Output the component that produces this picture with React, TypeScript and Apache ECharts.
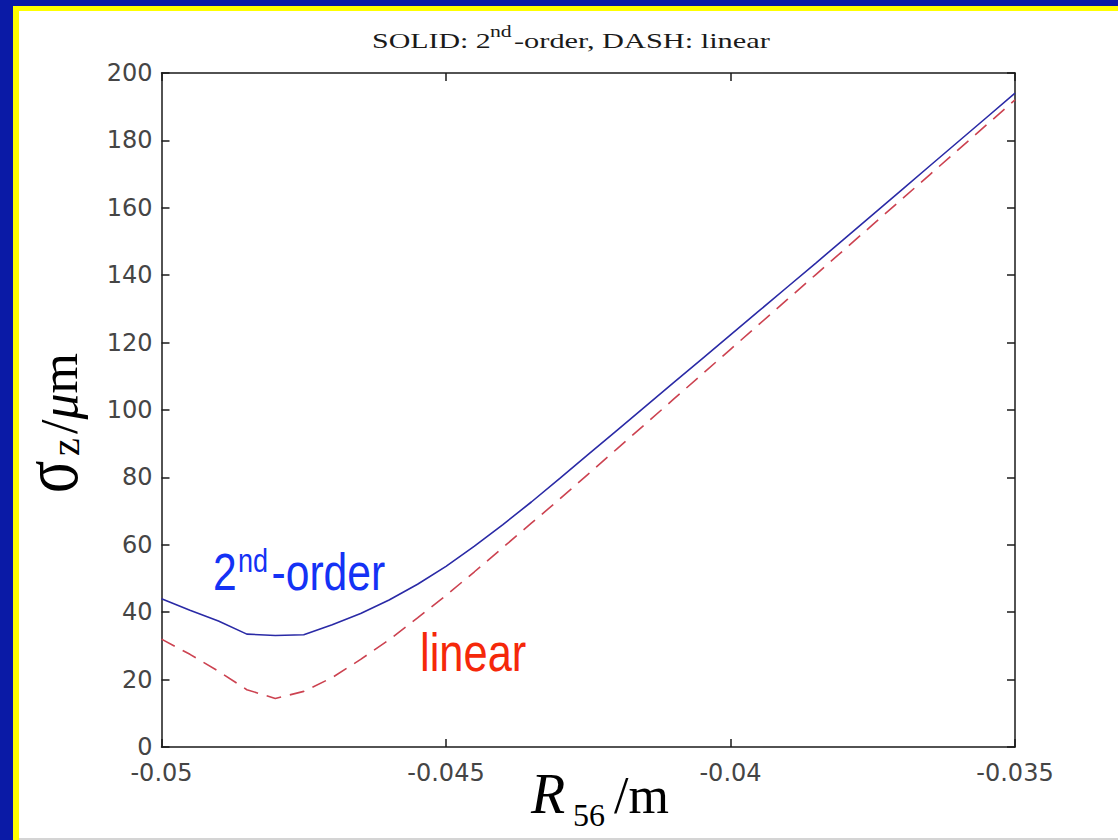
import React, { useEffect, useRef } from "react";
import * as echarts from "echarts";

// R56 sample positions (m)
const r56 = [
  -0.05, -0.0495, -0.049, -0.0485, -0.048, -0.0475, -0.047, -0.0465, -0.046, -0.0455,
  -0.045, -0.0445, -0.044, -0.0435, -0.043, -0.0425, -0.042, -0.0415, -0.041, -0.0405,
  -0.04, -0.0395, -0.039, -0.0385, -0.038, -0.0375, -0.037, -0.0365, -0.036, -0.0355,
  -0.035,
];

// sigma_z (um), 2nd-order (solid)
const secondOrder = [
  44, 40.6, 37.4, 33.5, 33.1, 33.3, 36.3, 39.6, 43.6, 48.3,
  53.6, 59.6, 66.0, 72.7, 79.7, 86.8, 93.9, 101, 108.1, 115.2,
  122.3, 129.4, 136.5, 143.6, 150.8, 158, 165.2, 172.4, 179.6, 186.8,
  194,
];

// sigma_z (um), linear (dashed)
const linearOrder = [
  32, 27.5, 22.5, 17, 14.4, 16.5, 20.6, 26.0, 31.8, 38.3,
  45, 52, 59.2, 66.4, 73.6, 81, 88.4, 95.8, 103.2, 110.6,
  118, 125.4, 132.8, 140.2, 147.6, 155, 162.4, 169.8, 177.2, 184.6,
  192,
];

const xMin = -0.05;
const xMax = -0.035;
const xStep = 0.005;
const yMin = 0;
const yMax = 200;
const yStep = 20;

const titleParts = ["SOLID: 2", "nd", "-order, DASH: linear"];
const xNameParts = ["R", "56", "/m"];
const yNameParts = ["σ", "z"];
const annotSecond = ["2", "nd", "-order"];
const annotLinear = "linear";

export default function App() {
  const ref = useRef<HTMLDivElement>(null);

  useEffect(() => {
    if (!ref.current) return;
    const chart = echarts.init(ref.current, undefined, { renderer: "svg" });

    const axisLineStyle = { color: "#1a1a1a", width: 1.5 };
    const tickLabel = {
      fontFamily: "DejaVu Sans",
      fontSize: 24,
      color: "#454545",
      lineHeight: 20,
    };

    const serif = '"Liberation Serif", "Times New Roman", serif';
    const sans = '"Liberation Sans", Arial, sans-serif';

    chart.setOption({
      animation: false,
      backgroundColor: "#ffffff",
      grid: { left: 161.5, right: 103, top: 73, bottom: 93, containLabel: false },
      xAxis: [
        {
          type: "value",
          position: "bottom",
          min: xMin,
          max: xMax,
          interval: xStep,
          axisLine: { show: true, onZero: false, lineStyle: axisLineStyle },
          axisTick: { show: true, inside: true, length: 8, lineStyle: axisLineStyle },
          axisLabel: {
            ...tickLabel,
            margin: 16,
            showMinLabel: true,
            showMaxLabel: true,
            formatter: (v: number) => String(Number(v.toFixed(4))),
          },
          splitLine: { show: false },
        },
        {
          type: "value",
          position: "top",
          min: xMin,
          max: xMax,
          interval: xStep,
          axisLine: { show: true, onZero: false, lineStyle: axisLineStyle },
          axisTick: { show: true, inside: true, length: 8, lineStyle: axisLineStyle },
          axisLabel: { show: false },
          splitLine: { show: false },
        },
      ],
      yAxis: [
        {
          type: "value",
          position: "left",
          min: yMin,
          max: yMax,
          interval: yStep,
          axisLine: { show: true, onZero: false, lineStyle: axisLineStyle },
          axisTick: { show: true, inside: true, length: 8, lineStyle: axisLineStyle },
          axisLabel: { ...tickLabel, margin: 9, showMinLabel: true, showMaxLabel: true },
          splitLine: { show: false },
        },
        {
          type: "value",
          position: "right",
          min: yMin,
          max: yMax,
          interval: yStep,
          axisLine: { show: true, onZero: false, lineStyle: axisLineStyle },
          axisTick: { show: true, inside: true, length: 8, lineStyle: axisLineStyle },
          axisLabel: { show: false },
          splitLine: { show: false },
        },
      ],
      series: [
        {
          name: "2nd-order",
          type: "line",
          xAxisIndex: 0,
          yAxisIndex: 0,
          data: r56.map((r, i) => [r, secondOrder[i]]),
          showSymbol: false,
          smooth: false,
          lineStyle: { color: "#2a2aa6", width: 1.6 },
        },
        {
          name: "linear",
          type: "line",
          xAxisIndex: 0,
          yAxisIndex: 0,
          data: r56.map((r, i) => [r, linearOrder[i]]),
          showSymbol: false,
          smooth: false,
          lineStyle: { color: "#cc4250", width: 1.6, type: [15, 9] },
        },
      ],
      graphic: [
        // frame: blue band + yellow border
        { type: "rect", shape: { x: 0, y: 0, width: 1118, height: 6 }, style: { fill: "#0a1aa6" } },
        { type: "rect", shape: { x: 0, y: 0, width: 13, height: 840 }, style: { fill: "#0a1aa6" } },
        { type: "rect", shape: { x: 13, y: 6, width: 1105, height: 5 }, style: { fill: "#ffff00" } },
        { type: "rect", shape: { x: 13, y: 6, width: 6, height: 834 }, style: { fill: "#ffff00" } },
        { type: "rect", shape: { x: 19, y: 838, width: 1099, height: 2 }, style: { fill: "#d4d4d4" } },
        // title
        {
          type: "text", x: 372, y: 40.6, scaleX: 1.36,
          style: { text: titleParts[0], font: `22px ${serif}`, fill: "#1a1a1a", verticalAlign: "middle" },
        },
        {
          type: "text", x: 490, y: 32, scaleX: 1.36,
          style: { text: titleParts[1], font: `16px ${serif}`, fill: "#1a1a1a", verticalAlign: "middle" },
        },
        {
          type: "text", x: 514, y: 40.6, scaleX: 1.38,
          style: { text: titleParts[2], font: `22px ${serif}`, fill: "#1a1a1a", verticalAlign: "middle" },
        },
        // x axis name
        {
          type: "text", x: 531, y: 794,
          style: { text: xNameParts[0], font: `italic 56px ${serif}`, fill: "#000", verticalAlign: "middle" },
        },
        {
          type: "text", x: 573, y: 815,
          style: { text: xNameParts[1], font: `32px ${serif}`, fill: "#000", verticalAlign: "middle" },
        },
        {
          type: "text", x: 614, y: 795.5,
          style: { text: xNameParts[2], font: `52px ${serif}`, fill: "#000", verticalAlign: "middle" },
        },
        // y axis name (rotated)
        {
          type: "text", x: 49, y: 493, rotation: Math.PI / 2, scaleY: 1.35,
          style: { text: yNameParts[0], font: `60px ${serif}`, fill: "#000", verticalAlign: "middle" },
        },
        {
          type: "text", x: 65, y: 456, rotation: Math.PI / 2,
          style: { text: yNameParts[1], font: `40px ${serif}`, fill: "#000", verticalAlign: "middle" },
        },
        {
          type: "text", x: 59.5, y: 434, rotation: Math.PI / 2,
          style: {
            text: "{n|/}{i|μ}{n|m}",
            fill: "#000",
            verticalAlign: "middle",
            rich: {
              n: { font: `52px ${serif}`, fill: "#000" },
              i: { font: `italic 52px ${serif}`, fill: "#000" },
            },
          },
        },
        // in-plot annotations
        {
          type: "text", x: 213, y: 572, scaleX: 0.82,
          style: { text: annotSecond[0], font: `52px ${sans}`, fill: "#1432f5", verticalAlign: "middle" },
        },
        {
          type: "text", x: 238, y: 560.6, scaleX: 0.82,
          style: { text: annotSecond[1], font: `33px ${sans}`, fill: "#1432f5", verticalAlign: "middle" },
        },
        {
          type: "text", x: 271.5, y: 572, scaleX: 0.82,
          style: { text: annotSecond[2], font: `52px ${sans}`, fill: "#1432f5", verticalAlign: "middle" },
        },
        {
          type: "text", x: 420, y: 652.7, scaleX: 0.82,
          style: { text: annotLinear, font: `53px ${sans}`, fill: "#f5280a", verticalAlign: "middle" },
        },
      ],
    });

    return () => chart.dispose();
  }, []);

  return (
    <div style={{ position: "fixed", left: 0, top: 0, width: 1118, height: 840 }}>
      <div ref={ref} style={{ width: 1118, height: 840 }} />
    </div>
  );
}
